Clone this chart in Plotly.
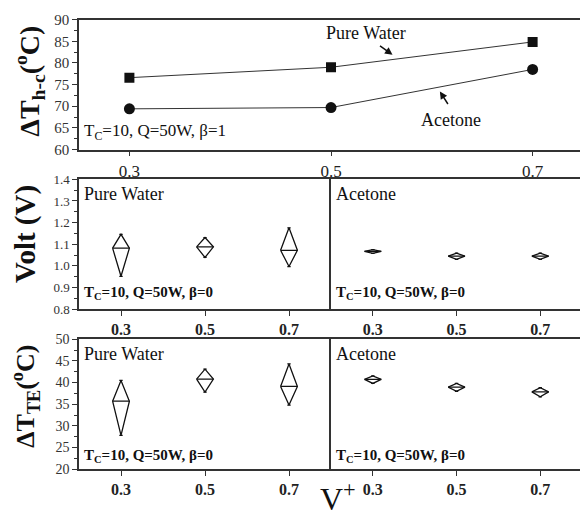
import plotly.graph_objects as go

# ---------------- data ----------------
v_plus = [0.3, 0.5, 0.7]
x_ticks = [0.3, 0.5, 0.7]

# top panel: Delta T h-c (beta = 1)
dthc_water = [76.6, 79.0, 84.85]
dthc_acetone = [69.4, 69.7, 78.5]

# middle panel: Volt (beta = 0)  -> top, mean, bottom of each diamond
volt_water_top = [1.146, 1.131, 1.176]
volt_water_mid = [1.082, 1.088, 1.072]
volt_water_bot = [0.952, 1.039, 0.997]
volt_acet_top = [1.075, 1.059, 1.059]
volt_acet_mid = [1.067, 1.045, 1.045]
volt_acet_bot = [1.058, 1.030, 1.030]

# bottom panel: Delta T TE (beta = 0)
dtte_water_top = [40.5, 43.1, 44.3]
dtte_water_mid = [35.7, 40.8, 39.1]
dtte_water_bot = [27.8, 37.8, 34.8]
dtte_acet_top = [41.55, 39.8, 38.8]
dtte_acet_mid = [40.75, 38.96, 37.84]
dtte_acet_bot = [39.8, 38.0, 36.7]

FONT = "Liberation Serif, Times New Roman, serif"
INK = "#111111"
AX = "#333333"
HW = 0.02   # half width of diamonds in x units
CAP = 0.004


def diamond_paths(xs, tops, mids, bots):
    px, py = [], []
    for x, t, m, b in zip(xs, tops, mids, bots):
        px += [x - HW, x, x + HW, x, x - HW, None, x - HW, x + HW, None,
               x - CAP, x + CAP, None, x - CAP, x + CAP, None]
        py += [m, t, m, b, m, None, m, m, None, t, t, None, b, b, None]
    return px, py


fig = go.Figure()

# top panel
fig.add_trace(go.Scatter(x=v_plus, y=dthc_water, mode="lines+markers",
                         line=dict(color=AX, width=1),
                         marker=dict(symbol="square", size=10, color=INK),
                         xaxis="x", yaxis="y", showlegend=False))
fig.add_trace(go.Scatter(x=v_plus, y=dthc_acetone, mode="lines+markers",
                         line=dict(color=AX, width=1),
                         marker=dict(symbol="circle", size=11, color=INK),
                         xaxis="x", yaxis="y", showlegend=False))

panels = [
    ("x2", "y2", volt_water_top, volt_water_mid, volt_water_bot),
    ("x3", "y3", volt_acet_top, volt_acet_mid, volt_acet_bot),
    ("x4", "y4", dtte_water_top, dtte_water_mid, dtte_water_bot),
    ("x5", "y5", dtte_acet_top, dtte_acet_mid, dtte_acet_bot),
]
for xa, ya, t, m, b in panels:
    px, py = diamond_paths(v_plus, t, m, b)
    fig.add_trace(go.Scatter(x=px, y=py, mode="lines",
                             line=dict(color=INK, width=1.3),
                             xaxis=xa, yaxis=ya, showlegend=False,
                             connectgaps=False))

XL, XD, XR = 79 / 580, 331 / 580, 1.0
D_TOP = [1 - 146 / 524, 1 - 12 / 524]
D_MID = [1 - 310.7 / 524, 1 - 176.7 / 524]
D_BOT = [1 - 475.7 / 524, 1 - 341.7 / 524]

def xax(domain, rng, anchor, bold, size):
    return dict(domain=domain, range=rng, anchor=anchor, tickvals=x_ticks,
                ticktext=[f"{v:.1f}" for v in x_ticks],
                showline=True, linecolor=AX, linewidth=1.5, mirror=True,
                ticks="outside", ticklen=5, tickcolor=AX, tickwidth=1,
                showgrid=False, zeroline=False,
                tickfont=dict(family=FONT, size=size, color="#222",
                              weight="bold" if bold else "normal"))

def yax(domain, rng, anchor, dtick, minor, labels=True, size=13):
    d = dict(domain=domain, range=rng, anchor=anchor, dtick=dtick,
             showline=True, linecolor=AX, linewidth=1.5, mirror=False,
             showgrid=False, zeroline=False,
             tickfont=dict(family=FONT, size=size, color="#333"))
    if labels:
        d.update(ticks="outside", ticklen=5, tickcolor=AX, tickwidth=1,
                 minor=dict(dtick=minor, ticks="outside", ticklen=3,
                            tickcolor=AX, showgrid=False))
    else:
        d.update(showticklabels=False, ticks="")
    return d

fig.update_layout(
    width=580, height=524, margin=dict(l=0, r=0, t=0, b=0),
    paper_bgcolor="white", plot_bgcolor="white",
    xaxis=xax([XL, XR], [0.25, 0.747], "y", False, 17),
    yaxis=yax(D_TOP, [60, 90], "x", 5, 2.5, size=15),
    xaxis2=xax([XL, XD], [0.2, 0.8], "y2", True, 16),
    yaxis2=yax(D_MID, [0.8, 1.4], "x2", 0.1, 0.05, size=13),
    xaxis3=xax([XD, XR], [0.2, 0.795], "y3", True, 16),
    yaxis3=yax(D_MID, [0.8, 1.4], "x3", 0.1, 0.05, labels=False),
    xaxis4=xax([XL, XD], [0.2, 0.8], "y4", True, 16),
    yaxis4=yax(D_BOT, [20, 50], "x4", 5, 2.5, size=14),
    xaxis5=xax([XD, XR], [0.2, 0.795], "y5", True, 16),
    yaxis5=yax(D_BOT, [20, 50], "x5", 5, 2.5, labels=False),
)
fig.update_yaxes(tickformat=".1f", selector=dict(anchor="x2"))

def ptext(x, y, text, size, bold=False, xanchor="left", angle=0):
    fig.add_annotation(xref="paper", yref="paper", x=x / 580, y=1 - y / 524,
                       text=text, showarrow=False, xanchor=xanchor,
                       yanchor="middle", textangle=angle,
                       font=dict(family=FONT, size=size, color=INK,
                                 weight="bold" if bold else "normal"))

# axis titles
ptext(30, 76, "ΔT<sub>h-c</sub>(<sup>o</sup>C)", 28, True, "center", -90)
ptext(26, 233, "Volt (V)", 29, True, "center", -90)
ptext(25, 401, "ΔT<sub>TE</sub>(<sup>o</sup>C)", 26, True, "center", -90)
fig.add_annotation(xref="paper", yref="paper", x=338 / 580, y=0,
                   text="V<sup>+</sup>", showarrow=False, xanchor="center",
                   yanchor="bottom", yshift=-3,
                   font=dict(family=FONT, size=32, color=INK))

# top panel labels
ptext(366, 26, "Pure Water", 18, False, "center")
ptext(451, 116, "Acetone", 18, False, "center")
ptext(82, 128, "T<sub>C</sub>=10, Q=50W, β=1", 17)
fig.add_annotation(xref="x", yref="y", x=0.561, y=81.9, ax=-14, ay=-10,
                   text="", showarrow=True, arrowhead=2, arrowsize=1,
                   arrowwidth=1.5, arrowcolor=INK)
fig.add_annotation(xref="x", yref="y", x=0.608, y=73.4, ax=9, ay=14,
                   text="", showarrow=True, arrowhead=2, arrowsize=1,
                   arrowwidth=1.5, arrowcolor=INK)

# middle / bottom panel labels
ptext(82, 192, "Pure Water", 18)
ptext(334, 192, "Acetone", 18)
ptext(82, 294, "T<sub>C</sub>=10, Q=50W, β=0", 15, True)
ptext(334, 294, "T<sub>C</sub>=10, Q=50W, β=0", 15, True)
ptext(82, 357, "Pure Water", 18)
ptext(334, 357, "Acetone", 18)
ptext(82, 462, "T<sub>C</sub>=10, Q=50W, β=0", 15, True)
ptext(334, 462, "T<sub>C</sub>=10, Q=50W, β=0", 15, True)

fig.write_html("out.html",
               config={"displayModeBar": False},
               post_script="document.body.style.margin='0';"
                           "document.body.style.overflow='hidden';")
